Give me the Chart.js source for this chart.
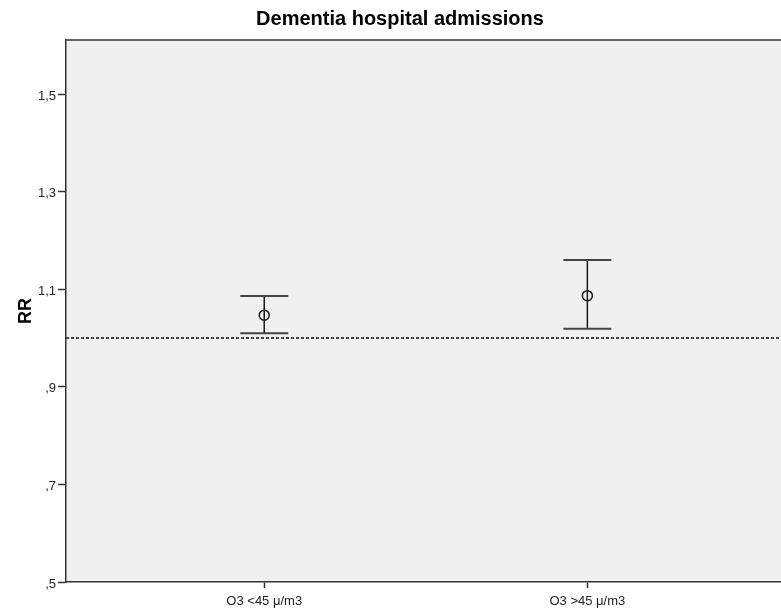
<!DOCTYPE html>
<html>
<head>
<meta charset="utf-8">
<script src="https://cdn.jsdelivr.net/npm/chart.js@4.4.0/dist/chart.umd.min.js"></script>
<style>
    html, body { margin: 0; padding: 0; background: #fff; overflow: hidden; }
    #wrap { width: 800px; height: 608px; }
</style>
</head>
<body>
<div id="wrap"><canvas id="rrChart" width="800" height="608"></canvas></div>
<script>
// data
const categories = ['O3 <45 μ/m3', 'O3 >45 μ/m3'];
const rrValues = [1.047, 1.087];
const ciLower = [1.010, 1.019];
const ciUpper = [1.086, 1.160];
const refValue = 1.0;
const yTickValues = [0.5, 0.7, 0.9, 1.1, 1.3, 1.5];
const yTickLabels = [',5', ',7', ',9', '1,1', '1,3', '1,5'];

Chart.defaults.font.family = "'Liberation Sans', Arial, sans-serif";
Chart.defaults.color = '#222';

// grey plot background + top frame line
const plotFrame = {
    id: 'plotFrame',
    beforeDraw(chart) {
        const {ctx, chartArea} = chart;
        ctx.save();
        ctx.fillStyle = '#f0f0f0';
        ctx.fillRect(chartArea.left, chartArea.top, chartArea.right - chartArea.left, chartArea.bottom - chartArea.top);
        ctx.strokeStyle = '#333';
        ctx.lineWidth = 1.5;
        ctx.beginPath();
        ctx.moveTo(chartArea.left, chartArea.top);
        ctx.lineTo(chartArea.right, chartArea.top);
        ctx.stroke();
        ctx.restore();
    }
};

// dotted reference line and the CI whiskers
const errorBars = {
    id: 'errorBars',
    beforeDatasetsDraw(chart) {
        const {ctx, chartArea, scales} = chart;
        const x = scales.x, y = scales.y;
        ctx.save();

        //reference line
        const yRef = y.getPixelForValue(refValue);
        ctx.strokeStyle = '#444';
        ctx.lineWidth = 2;
        ctx.setLineDash([3, 2]);
        ctx.beginPath();
        ctx.moveTo(chartArea.left, yRef);
        ctx.lineTo(chartArea.right, yRef);
        ctx.stroke();
        ctx.setLineDash([]);

        //whiskers
        categories.forEach(function(cat, i) {
            const px = x.getPixelForValue(i + 1);
            const yLo = y.getPixelForValue(ciLower[i]);
            const yHi = y.getPixelForValue(ciUpper[i]);
            ctx.strokeStyle = '#1a1a1a';
            ctx.lineWidth = 1.5;
            ctx.beginPath();
            ctx.moveTo(px, yHi);
            ctx.lineTo(px, yLo);
            ctx.stroke();
            ctx.strokeStyle = '#444';
            ctx.lineWidth = 2;
            ctx.beginPath();
            ctx.moveTo(px - 24, yHi);
            ctx.lineTo(px + 24, yHi);
            ctx.moveTo(px - 24, yLo);
            ctx.lineTo(px + 24, yLo);
            ctx.stroke();
        });
        ctx.restore();
    }
};

const canvas = document.getElementById('rrChart');
const rrChart = new Chart(canvas, {
    type: 'scatter',
    data: {
        datasets: [{
            label: 'RR',
            data: rrValues.map((v, i) => ({x: i + 1, y: v})),
            pointStyle: 'circle',
            pointRadius: 5,
            pointHoverRadius: 5,
            pointBackgroundColor: 'rgba(0,0,0,0)',
            pointBorderColor: '#1a1a1a',
            pointBorderWidth: 1.5
        }]
    },
    options: {
        responsive: false,
        animation: false,
        devicePixelRatio: 1,
        layout: { padding: 0 },
        plugins: {
            legend: { display: false },
            tooltip: { enabled: false },
            title: {
                display: true,
                text: 'Dementia hospital admissions',
                color: '#000',
                font: { size: 20, weight: 'bold' },
                padding: { top: 7, bottom: 9 }
            }
        },
        scales: {
            x: {
                type: 'linear',
                min: 0.3865,
                max: 2.638,
                afterBuildTicks: (scale) => {
                    scale.ticks = categories.map((c, i) => ({value: i + 1}));
                },
                afterFit: (scale) => { scale.height = 26; },
                ticks: {
                    callback: (v, i) => categories[i],
                    font: { size: 13 },
                    color: '#222',
                    padding: 6,
                    maxRotation: 0,
                    autoSkip: false
                },
                grid: { drawOnChartArea: false, tickLength: 6, tickColor: '#333', tickWidth: 1.5 },
                border: { color: '#333', width: 1.5 }
            },
            y: {
                min: 0.5,
                max: 1.611,
                afterBuildTicks: (scale) => {
                    scale.ticks = yTickValues.map(v => ({value: v}));
                },
                afterFit: (scale) => { scale.width = 66; },
                ticks: {
                    callback: (v, i) => yTickLabels[i],
                    font: { size: 13 },
                    color: '#222',
                    padding: 2,
                    labelOffset: 2
                },
                grid: { drawOnChartArea: false, tickLength: 8, tickColor: '#333', tickWidth: 1.5 },
                border: { color: '#333', width: 1.5 },
                title: {
                    display: true,
                    text: 'RR',
                    color: '#000',
                    font: { size: 18, weight: 'bold' },
                    padding: { top: 15, bottom: 0 }
                }
            }
        }
    },
    plugins: [plotFrame, errorBars]
});
</script>
</body>
</html>
